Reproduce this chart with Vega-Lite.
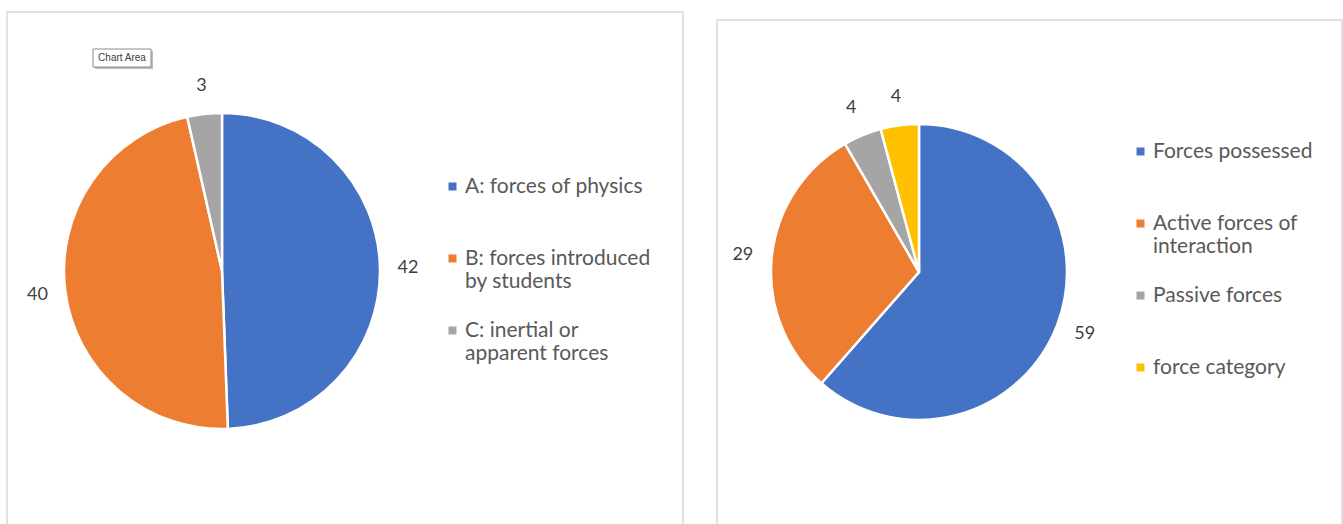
{
  "$schema": "https://vega.github.io/schema/vega-lite/v6.json",
  "background": "white",
  "padding": {"left": 6, "top": 11, "right": 0, "bottom": 0},
  "spacing": 32,
  "config": {
    "view": {"stroke": "#d9d9d9", "strokeWidth": 1.5},
    "font": "Lato"
  },
  "resolve": {"scale": {"color": "independent", "theta": "independent"}, "legend": {"color": "independent"}},
  "hconcat": [
    {
      "width": 676,
      "height": 513,
      "view": {"stroke": "#d9d9d9", "strokeWidth": 1.5},
      "layer": [
        {
          "data": {"values": [
            {"cat": "A: forces of physics", "value": 42, "ord": 1},
            {"cat": "B: forces introduced|by students", "value": 40, "ord": 2},
            {"cat": "C: inertial or|apparent forces", "value": 3, "ord": 3}
          ]},
          "layer": [
            {
              "mark": {"type": "arc", "x": 215, "y": 259, "outerRadius": 158, "stroke": "white", "strokeWidth": 2.5},
              "encoding": {
                "theta": {"field": "value", "type": "quantitative", "stack": true},
                "order": {"field": "ord", "type": "quantitative"},
                "color": {
                  "field": "cat", "type": "nominal",
                  "scale": {"domain": ["A: forces of physics", "B: forces introduced|by students", "C: inertial or|apparent forces"], "range": ["#4472C4", "#ED7D31", "#A5A5A5"]},
                  "legend": {
                    "title": null, "orient": "none", "legendX": 435, "legendY": 164,
                    "symbolType": "square", "symbolSize": 64, "symbolStrokeWidth": 0,
                    "labelFontSize": 21, "labelColor": "#595959", "labelFont": "Lato", "labelLimit": 300, "labelOffset": 2,
                    "rowPadding": 27, "padding": 0,
                    "labelExpr": "indexof(datum.label,'|')>=0 ? split(datum.label,'|') : [datum.label, '']",
                    "encode": {"labels": {"update": {"dy": {"value": 12}}}}
                  }
                }
              }
            },
            {
              "mark": {"type": "text", "x": 215, "y": 259, "radius": 186, "fontSize": 18, "color": "#404040", "font": "Lato"},
              "encoding": {
                "theta": {"field": "value", "type": "quantitative", "stack": true},
                "order": {"field": "ord", "type": "quantitative"},
                "text": {"field": "value", "type": "quantitative"}
              }
            }
          ]
        },
        {
          "data": {"values": [{"label": "Chart Area"}]},
          "layer": [
            {"mark": {"type": "rect", "x": 88, "y": 39, "x2": 146, "y2": 57, "fill": "#bdbdbd"}, "encoding": {}},
            {"mark": {"type": "rect", "x": 86, "y": 37, "x2": 144, "y2": 55, "fill": "white", "stroke": "#8c8c8c", "strokeWidth": 1}, "encoding": {}},
            {"mark": {"type": "text", "x": 115, "y": 46, "fontSize": 10, "color": "#404040", "font": "Liberation Sans", "align": "center", "baseline": "middle"}, "encoding": {"text": {"field": "label"}}}
          ]
        }
      ]
    },
    {
      "spacing": 6,
      "vconcat": [
        {
          "width": 625,
          "height": 1,
          "view": {"stroke": null},
          "data": {"values": []},
          "mark": {"type": "point", "opacity": 0},
          "encoding": {}
        },
        {
          "width": 625,
          "height": 505,
          "view": {"stroke": "#d9d9d9", "strokeWidth": 1.5},
          "data": {"values": [
            {"cat": "Forces possessed", "value": 59, "ord": 1},
            {"cat": "Active forces of|interaction", "value": 29, "ord": 2},
            {"cat": "Passive forces", "value": 4, "ord": 3},
            {"cat": "force category", "value": 4, "ord": 4}
          ]},
          "layer": [
            {
              "mark": {"type": "arc", "x": 202, "y": 252, "outerRadius": 148, "stroke": "white", "strokeWidth": 2.5},
              "encoding": {
                "theta": {"field": "value", "type": "quantitative", "stack": true},
                "order": {"field": "ord", "type": "quantitative"},
                "color": {
                  "field": "cat", "type": "nominal",
                  "scale": {"domain": ["Forces possessed", "Active forces of|interaction", "Passive forces", "force category"], "range": ["#4472C4", "#ED7D31", "#A5A5A5", "#FFC000"]},
                  "legend": {
                    "title": null, "orient": "none", "legendX": 413, "legendY": 129,
                    "symbolType": "square", "symbolSize": 64, "symbolStrokeWidth": 0,
                    "labelFontSize": 21, "labelColor": "#595959", "labelFont": "Lato", "labelLimit": 300, "labelOffset": 2,
                    "rowPadding": 27, "padding": 0,
                    "labelExpr": "indexof(datum.label,'|')>=0 ? split(datum.label,'|') : [datum.label, '']",
                    "encode": {"labels": {"update": {"dy": {"value": 12}}}}
                  }
                }
              }
            },
            {
              "mark": {"type": "text", "x": 202, "y": 252, "radius": 177, "fontSize": 18, "color": "#404040", "font": "Lato"},
              "encoding": {
                "theta": {"field": "value", "type": "quantitative", "stack": true},
                "order": {"field": "ord", "type": "quantitative"},
                "text": {"field": "value", "type": "quantitative"}
              }
            }
          ]
        }
      ]
    }
  ]
}
